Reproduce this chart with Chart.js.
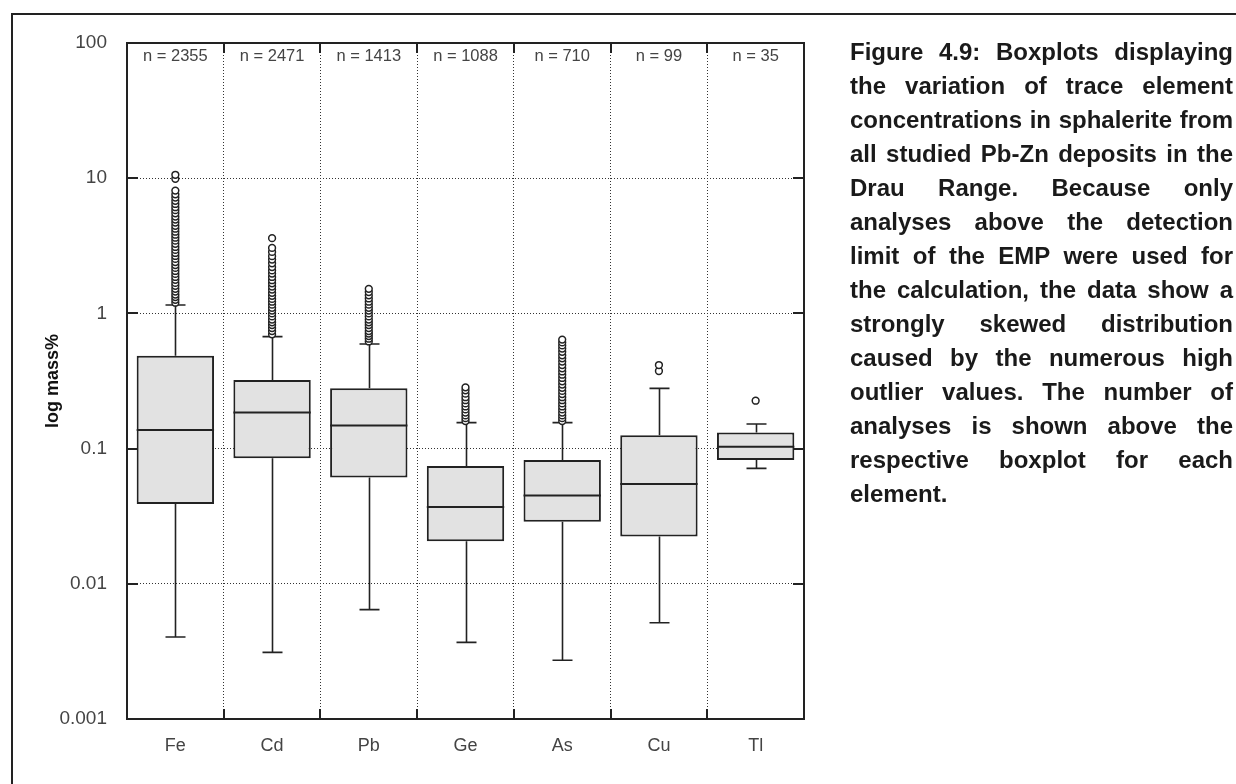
<!DOCTYPE html>
<html>
<head>
<meta charset="utf-8">
<script src="https://cdn.jsdelivr.net/npm/chart.js@4.4.1/dist/chart.umd.min.js"></script>
<style>
  html, body { margin: 0; padding: 0; background: #fff; }
  #wrap { position: relative; width: 1236px; height: 784px; overflow: hidden; }
  #frame { position: absolute; left: 11px; top: 13px; width: 1300px; height: 900px;
           border-left: 2px solid #222; border-top: 2px solid #222; }
  #chart { position: absolute; left: 0; top: 0; }
  #caption { position: absolute; left: 850px; top: 35px; width: 383px;
             font: bold 24px/34px "Liberation Sans", Arial, sans-serif; color: #1a1a1a; }
  #caption div { text-align: justify; text-align-last: justify; white-space: nowrap; }
  #caption div.last { text-align-last: left; }
</style>
</head>
<body>
<div id="wrap">
  <div id="frame"></div>
  <canvas id="chart" width="1236" height="784"></canvas>
  <div id="caption">
    <div>Figure 4.9: Boxplots displaying</div>
    <div>the variation of trace element</div>
    <div>concentrations in sphalerite from</div>
    <div>all studied Pb-Zn deposits in the</div>
    <div>Drau Range. Because only</div>
    <div>analyses above the detection</div>
    <div>limit of the EMP were used for</div>
    <div>the calculation, the data show a</div>
    <div>strongly skewed distribution</div>
    <div>caused by the numerous high</div>
    <div>outlier values. The number of</div>
    <div>analyses is shown above the</div>
    <div>respective boxplot for each</div>
    <div class="last">element.</div>
  </div>
</div>
<script>
// Elements and number of analyses per element
const categories = ['Fe', 'Cd', 'Pb', 'Ge', 'As', 'Cu', 'Tl'];
const counts = [2355, 2471, 1413, 1088, 710, 99, 35];

// Box statistics (mass%)
const q1 =          [0.039,  0.085,  0.061,  0.0206, 0.0288, 0.0224, 0.0824];
const median =      [0.137,  0.185,  0.148,  0.037,  0.045,  0.0547, 0.1033];
const q3 =          [0.486,  0.321,  0.279,  0.0743, 0.0824, 0.1254, 0.1313];
const whiskerLow =  [0.00404, 0.00311, 0.00644, 0.00369, 0.00272, 0.00515, 0.0714];
const whiskerHigh = [1.153,  0.673,  0.594,  0.1556, 0.1556, 0.279,  0.152];

// Outlier values per element
const outliersFe = [1.2, 1.26, 1.32, 1.38, 1.45, 1.52, 1.6, 1.68, 1.77, 1.86, 1.96, 2.06, 2.17, 2.28,
  2.4, 2.53, 2.66, 2.8, 2.95, 3.1, 3.27, 3.45, 3.63, 3.82, 4.02, 4.23, 4.45, 4.7, 4.95, 5.2, 5.5,
  5.8, 6.1, 6.45, 6.8, 7.2, 7.6, 8.1, 9.9, 10.6];
const outliersCd = [0.7, 0.74, 0.78, 0.82, 0.86, 0.9, 0.95, 1.0, 1.05, 1.1, 1.16, 1.22, 1.28, 1.35,
  1.42, 1.5, 1.58, 1.67, 1.76, 1.86, 1.97, 2.08, 2.2, 2.35, 2.5, 2.65, 2.85, 3.05, 3.6];
const outliersPb = [0.62, 0.65, 0.68, 0.71, 0.74, 0.78, 0.82, 0.86, 0.9, 0.95, 1.0, 1.05, 1.1, 1.16,
  1.22, 1.29, 1.36, 1.44, 1.52];
const outliersGe = [0.16, 0.168, 0.176, 0.185, 0.195, 0.205, 0.216, 0.228, 0.24, 0.255, 0.27, 0.284];
const outliersAs = [0.16, 0.168, 0.176, 0.185, 0.195, 0.205, 0.216, 0.228, 0.24, 0.253, 0.267, 0.282,
  0.298, 0.315, 0.333, 0.352, 0.372, 0.393, 0.415, 0.44, 0.465, 0.49, 0.52, 0.55, 0.58, 0.61, 0.64];
const outliersCu = [0.375, 0.415];
const outliersTl = [0.226];

// Axis ticks
const yTickValues = [0.001, 0.01, 0.1, 1, 10, 100];
const yTickLabels = ['0.001', '0.01', '0.1', '1', '10', '100'];

const FONT = '"Liberation Sans", Arial, sans-serif';
const INK = '#222';

const outlierGroups = [outliersFe, outliersCd, outliersPb, outliersGe, outliersAs, outliersCu, outliersTl];
const outlierPoints = [];
outlierGroups.forEach((vals, i) => vals.forEach(v => outlierPoints.push({ x: categories[i], y: v })));

// Whiskers, medians, counts, frame and inner tick marks
const boxplotExtras = {
  id: 'boxplotExtras',
  beforeDatasetsDraw(chart) {
    const { ctx, scales: { x, y } } = chart;
    ctx.save();
    ctx.strokeStyle = INK;
    ctx.lineWidth = 1.6;
    const cap = 10;
    categories.forEach((c, i) => {
      const px = Math.round(x.getPixelForValue(i)) + 0.5;
      const yLo = y.getPixelForValue(whiskerLow[i]);
      const yHi = y.getPixelForValue(whiskerHigh[i]);
      const yQ1 = y.getPixelForValue(q1[i]);
      const yQ3 = y.getPixelForValue(q3[i]);
      ctx.beginPath();
      ctx.moveTo(px, yQ1); ctx.lineTo(px, yLo);
      ctx.moveTo(px, yQ3); ctx.lineTo(px, yHi);
      ctx.moveTo(px - cap, yLo); ctx.lineTo(px + cap, yLo);
      ctx.moveTo(px - cap, yHi); ctx.lineTo(px + cap, yHi);
      ctx.stroke();
    });
    ctx.restore();
  },
  afterDatasetsDraw(chart) {
    const { ctx, chartArea: a, scales: { x, y } } = chart;
    const boxes = chart.getDatasetMeta(0).data;
    ctx.save();
    ctx.strokeStyle = INK;
    ctx.lineWidth = 2;
    categories.forEach((c, i) => {
      const b = boxes[i];
      const ym = y.getPixelForValue(median[i]);
      ctx.beginPath();
      ctx.moveTo(b.x - b.width / 2, ym);
      ctx.lineTo(b.x + b.width / 2, ym);
      ctx.stroke();
    });

    // plot frame
    ctx.lineWidth = 2;
    ctx.strokeRect(a.left, a.top, a.right - a.left, a.bottom - a.top);

    // inner tick marks on the y axis (left and right)
    const tl = 11;
    yTickValues.forEach(v => {
      const py = Math.round(y.getPixelForValue(v));
      ctx.beginPath();
      ctx.moveTo(a.left, py); ctx.lineTo(a.left + tl, py);
      ctx.moveTo(a.right - tl, py); ctx.lineTo(a.right, py);
      ctx.stroke();
    });
    // inner tick marks at the category boundaries (top and bottom)
    for (let i = 1; i < categories.length; i++) {
      const px = Math.round((x.getPixelForValue(i - 1) + x.getPixelForValue(i)) / 2);
      ctx.beginPath();
      ctx.moveTo(px, a.bottom); ctx.lineTo(px, a.bottom - 10);
      ctx.moveTo(px, a.top); ctx.lineTo(px, a.top + 10);
      ctx.stroke();
    }

    // number of analyses above each box
    ctx.fillStyle = '#444';
    ctx.font = '16.5px ' + FONT;
    ctx.textAlign = 'center';
    ctx.textBaseline = 'middle';
    categories.forEach((c, i) => {
      ctx.fillText('n = ' + counts[i], x.getPixelForValue(i), a.top + 13);
    });
    ctx.restore();
  }
};

new Chart(document.getElementById('chart'), {
  data: {
    labels: categories,
    datasets: [
      {
        type: 'bar',
        label: 'IQR',
        data: categories.map((c, i) => [q1[i], q3[i]]),
        backgroundColor: '#e2e2e2',
        borderColor: INK,
        borderWidth: 2,
        borderSkipped: false,
        barPercentage: 0.8,
        categoryPercentage: 1.0,
        order: 2
      },
      {
        type: 'line',
        label: 'Outliers',
        data: outlierPoints,
        showLine: false,
        pointStyle: 'circle',
        pointRadius: 3.4,
        pointBorderWidth: 1.5,
        pointBorderColor: INK,
        pointBackgroundColor: '#fff',
        order: 1
      }
    ]
  },
  options: {
    responsive: false,
    animation: false,
    events: [],
    layout: { padding: { left: 0, top: 43, right: 432, bottom: 0 } },
    plugins: { legend: { display: false }, tooltip: { enabled: false } },
    scales: {
      x: {
        type: 'category',
        offset: true,
        grid: { offset: true, drawTicks: false, color: '#333', lineWidth: 1 },
        border: { display: true, color: INK, width: 2, dash: [1, 2] },
        ticks: { color: '#444', font: { family: FONT, size: 18 }, padding: 16 },
        afterFit(s) { s.height = 65; }
      },
      y: {
        type: 'logarithmic',
        min: 0.001,
        max: 100,
        afterBuildTicks(s) { s.ticks = yTickValues.map(v => ({ value: v })); },
        grid: { drawTicks: false, color: '#333', lineWidth: 1 },
        border: { display: true, color: INK, width: 2, dash: [1, 2] },
        ticks: {
          color: '#444',
          font: { family: FONT, size: 19 },
          padding: 20,
          callback: (v, i) => yTickLabels[i]
        },
        title: {
          display: true,
          text: 'log mass%',
          color: '#111',
          font: { family: FONT, size: 18, weight: 'bold' },
          padding: { top: 42, bottom: 0 }
        },
        afterFit(s) { s.width = 127; }
      }
    }
  },
  plugins: [boxplotExtras]
});
</script>
</body>
</html>
